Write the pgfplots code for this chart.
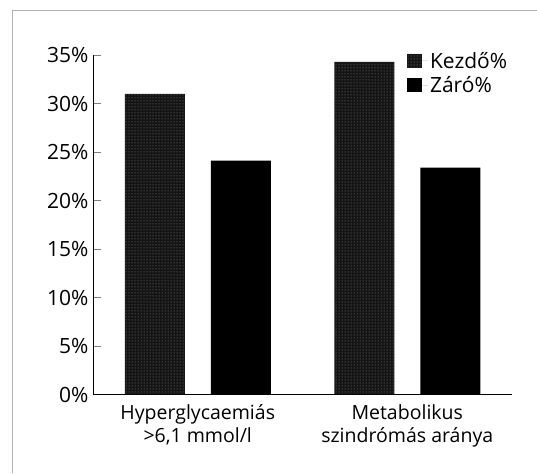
\documentclass[border=0pt]{standalone}
\usepackage{pgfplots}
\pgfplotsset{compat=1.18}
\usetikzlibrary{patterns}
\usepackage{fontspec}
\setmainfont{Open Sans}
\begin{document}
\begin{tikzpicture}
\useasboundingbox (0,0) rectangle (537pt,473pt);
\draw[gray!60, line width=0.8pt] (12pt,0) -- (12pt,463pt) -- (537pt,463pt);
\begin{axis}[
  at={(93pt,78.5pt)}, anchor=south west,
  scale only axis, width=419pt, height=339.5pt,
  xmin=-0.5, xmax=1.5, ymin=0, ymax=35,
  axis x line=bottom, axis y line=left,
  axis line style={-, line width=0.9pt},
  ybar=26pt, bar width=60pt,
  xtick={0,1},
  xticklabels={{Hyperglycaemiás\\>6,1 mmol/l},{Metabolikus\\szindrómás aránya}},
  x tick label style={align=center, font=\fontsize{19.5}{22.5}\selectfont, yshift=-7pt},
  x tick style={draw=none},
  extra x ticks={0.5,1.5},
  extra x tick labels={},
  extra x tick style={tick style={draw=black, line width=0.9pt}, major tick length=8pt, tick align=inside},
  ytick={0,5,...,35},
  yticklabel={\pgfmathprintnumber{\tick}\%},
  /pgf/number format/assume math mode=true,
  y tick label style={font=\fontsize{21}{24}\selectfont, xshift=-1pt},
  y tick style={line width=0.9pt},
  major tick length=8pt, tick align=inside,
  legend cell align=left,
  legend style={draw=none, fill=none, at={(0.749,1.015)}, anchor=north west, inner sep=0pt,
    font=\fontsize{21}{23}\selectfont, row sep=3pt},
  legend image code/.code={\fill[#1] (0pt,-7pt) rectangle (15pt,7pt); \path (0pt,0pt) -- (21pt,0pt);},
]
\addplot[fill=black!92, draw=none, postaction={pattern=dots, pattern color=white!55!black}] coordinates {(0,31.0) (1,34.3)};
\addplot[fill=black, draw=none] coordinates {(0,24.1) (1,23.4)};
\legend{Kezdő\%, Záró\%}
\end{axis}
\end{tikzpicture}
\end{document}
